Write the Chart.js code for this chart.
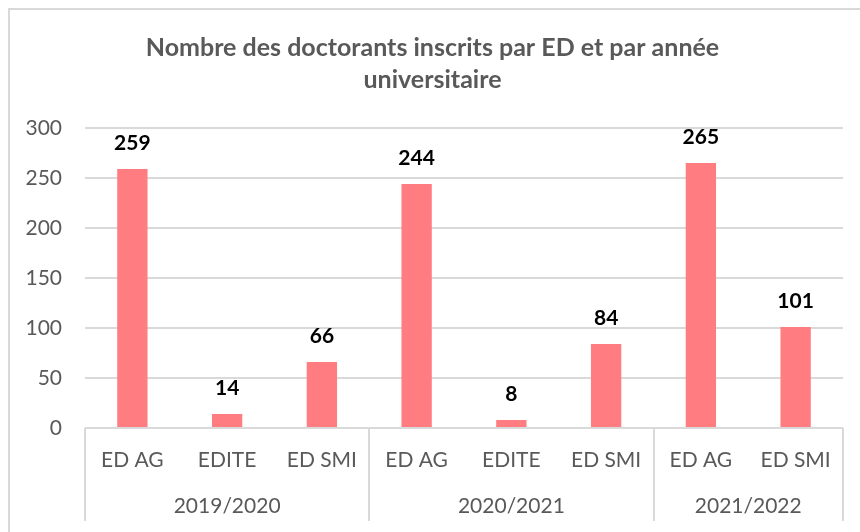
<!DOCTYPE html>
<html>
<head>
<meta charset="utf-8">
<script src="https://cdn.jsdelivr.net/npm/chart.js@4"></script>
<style>
  html, body { margin: 0; padding: 0; background: #fff; }
  #wrap { width: 860px; height: 532px; }
</style>
</head>
<body>
<div id="wrap"><canvas id="myChart" width="860" height="532"></canvas></div>
<script>
// values
var categories = ['ED AG', 'EDITE', 'ED SMI', 'ED AG', 'EDITE', 'ED SMI', 'ED AG', 'ED SMI'];
var years = ['2019/2020', '2020/2021', '2021/2022'];
var yearSizes = [3, 3, 2];
var inscrits = [259, 14, 66, 244, 8, 84, 265, 101];
var yTicks = [0, 50, 100, 150, 200, 250, 300];

var FONT = 'Lato, "Noto Sans", sans-serif';
var GREY = '#595959';
var LINE = '#d9d9d9';

// frame of the chart (only top and left edges are visible in the reference)
var framePlugin = {
    id: 'frame',
    beforeDraw: function(chart) {
        var c = chart.ctx;
        c.save();
        c.strokeStyle = LINE;
        c.lineWidth = 2;
        c.beginPath();
        c.moveTo(9, chart.height);
        c.lineTo(9, 9);
        c.lineTo(chart.width, 9);
        c.stroke();
        c.restore();
    }
};

// second level of the category axis: years + separators
var groupAxisPlugin = {
    id: 'groupAxis',
    afterDraw: function(chart) {
        var x = chart.scales.x;
        var area = chart.chartArea;
        var c = chart.ctx;
        var step = (x.right - x.left) / categories.length;
        c.save();
        c.strokeStyle = LINE;
        c.lineWidth = 2;
        c.fillStyle = GREY;
        c.font = '21px ' + FONT;
        c.textAlign = 'center';
        c.textBaseline = 'middle';
        var start = 0;
        for (var g = 0; g <= years.length; g++) {
            var px = Math.round(x.getPixelForValue(start) - step / 2);
            c.beginPath();
            c.moveTo(px, area.bottom);
            c.lineTo(px, area.bottom + 93);
            c.stroke();
            if (g < years.length) {
                var end = start + yearSizes[g] - 1;
                var mid = (x.getPixelForValue(start) + x.getPixelForValue(end)) / 2;
                c.fillText(years[g], mid, area.bottom + 78);
                start += yearSizes[g];
            }
        }
        c.restore();
    }
};

// value labels above bars
var valueLabels = {
    id: 'valueLabels',
    afterDatasetsDraw: function(chart) {
        var c = chart.ctx;
        var meta = chart.getDatasetMeta(0);
        c.save();
        c.fillStyle = '#000';
        c.font = 'bold 21px ' + FONT;
        c.textAlign = 'center';
        c.textBaseline = 'middle';
        meta.data.forEach(function(bar, i) {
            c.fillText(inscrits[i], bar.x, bar.y - 26);
        });
        c.restore();
    }
};

var ctx = document.getElementById('myChart').getContext('2d');
var chart = new Chart(ctx, {
    type: 'bar',
    data: {
        labels: categories,
        datasets: [{
            label: 'Doctorants inscrits',
            data: inscrits,
            backgroundColor: '#ff7c80',
            barPercentage: 0.32,
            categoryPercentage: 1
        }]
    },
    options: {
        responsive: false,
        animation: false,
        layout: { padding: { left: 22, right: 17, top: 0, bottom: 0 } },
        plugins: {
            legend: { display: false },
            tooltip: { enabled: false },
            title: {
                display: true,
                text: ['Nombre des doctorants inscrits par ED et par année', 'universitaire'],
                color: GREY,
                font: { family: FONT, size: 25, weight: 'bold', lineHeight: 1.28 },
                padding: { top: 32, bottom: 32 }
            }
        },
        scales: {
            x: {
                grid: { display: false, drawTicks: false },
                border: { display: false },
                ticks: { color: GREY, font: { family: FONT, size: 21 }, padding: 20, maxRotation: 0, autoSkip: false },
                afterFit: function(scale) { scale.height = 104; }
            },
            y: {
                min: 0,
                max: 300,
                afterBuildTicks: function(scale) {
                    scale.ticks = yTicks.map(function(v) { return { value: v }; });
                },
                grid: { color: LINE, lineWidth: 2, drawTicks: false },
                border: { display: false },
                ticks: { color: GREY, font: { family: FONT, size: 21 }, padding: 23 },
                afterFit: function(scale) { scale.width = 63; }
            }
        }
    },
    plugins: [framePlugin, groupAxisPlugin, valueLabels]
});
</script>
</body>
</html>
